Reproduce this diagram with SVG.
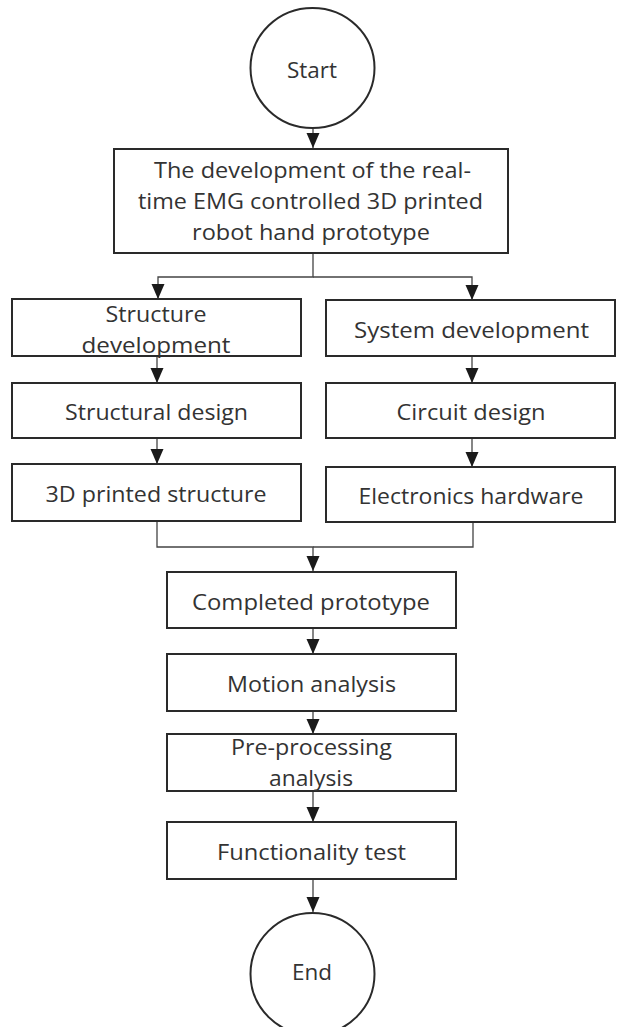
<svg xmlns="http://www.w3.org/2000/svg" width="617" height="1027" viewBox="0 0 617 1027">
<style>
.n{fill:#fff;stroke:#2a2a2a;stroke-width:2}
.t{font-family:"Open Sans","Liberation Sans",sans-serif;font-size:21px;fill:#333;text-anchor:middle}
.c{fill:none;stroke:#444;stroke-width:1.3}
</style>
<defs>
<marker id="ah" markerUnits="userSpaceOnUse" markerWidth="16" markerHeight="14" refX="15" refY="6.5" orient="auto">
<path d="M0,0 L15,6.5 L0,13 Z" fill="#1a1a1a"/>
</marker>
</defs>
<rect width="617" height="1027" fill="#fff"/>
<g id="connectors">
<path class="c" d="M313,129 V148" marker-end="url(#ah)"/>
<path class="c" d="M313,253 V277 H158 V299" marker-end="url(#ah)"/>
<path class="c" d="M313,277 H472 V300" marker-end="url(#ah)"/>
<path class="c" d="M157,356 V383" marker-end="url(#ah)"/>
<path class="c" d="M157,438 V464" marker-end="url(#ah)"/>
<path class="c" d="M472,356 V383" marker-end="url(#ah)"/>
<path class="c" d="M472,438 V467" marker-end="url(#ah)"/>
<path class="c" d="M157,521 V547 H313 V571" marker-end="url(#ah)"/>
<path class="c" d="M473,522 V547 H313"/>
<path class="c" d="M313,628 V654" marker-end="url(#ah)"/>
<path class="c" d="M313,711 V734" marker-end="url(#ah)"/>
<path class="c" d="M313,791 V822" marker-end="url(#ah)"/>
<path class="c" d="M313,879 V912" marker-end="url(#ah)"/>
</g>
<g id="start">
<ellipse class="n" cx="312.5" cy="68" rx="62" ry="60"/>
<text class="t" x="312" y="78" textLength="50" lengthAdjust="spacingAndGlyphs">Start</text>
</g>
<g id="main">
<rect class="n" x="114" y="149" width="394" height="104"/>
<text class="t" x="312.5" y="178" textLength="317" lengthAdjust="spacingAndGlyphs">The development of the real-</text>
<text class="t" x="310.5" y="209" textLength="345" lengthAdjust="spacingAndGlyphs">time EMG controlled 3D printed</text>
<text class="t" x="311" y="240" textLength="238" lengthAdjust="spacingAndGlyphs">robot hand prototype</text>
</g>
<g id="structure-development">
<rect class="n" x="12" y="299" width="289" height="57"/>
<text class="t" x="156" y="322" textLength="101" lengthAdjust="spacingAndGlyphs">Structure</text>
<text class="t" x="156" y="353" textLength="149" lengthAdjust="spacingAndGlyphs">development</text>
</g>
<g id="structural-design">
<rect class="n" x="12" y="383" width="289" height="55"/>
<text class="t" x="156.5" y="420" textLength="183" lengthAdjust="spacingAndGlyphs">Structural design</text>
</g>
<g id="printed-structure">
<rect class="n" x="12" y="464" width="289" height="57"/>
<text class="t" x="156" y="502" textLength="221" lengthAdjust="spacingAndGlyphs">3D printed structure</text>
</g>
<g id="system-development">
<rect class="n" x="326" y="300" width="289" height="56"/>
<text class="t" x="471.5" y="338" textLength="235" lengthAdjust="spacingAndGlyphs">System development</text>
</g>
<g id="circuit-design">
<rect class="n" x="326" y="383" width="289" height="55"/>
<text class="t" x="471" y="420" textLength="149" lengthAdjust="spacingAndGlyphs">Circuit design</text>
</g>
<g id="electronics-hardware">
<rect class="n" x="326" y="467" width="289" height="55"/>
<text class="t" x="471" y="504" textLength="225" lengthAdjust="spacingAndGlyphs">Electronics hardware</text>
</g>
<g id="completed-prototype">
<rect class="n" x="167" y="572" width="289" height="56"/>
<text class="t" x="311" y="610" textLength="238" lengthAdjust="spacingAndGlyphs">Completed prototype</text>
</g>
<g id="motion-analysis">
<rect class="n" x="167" y="654" width="289" height="57"/>
<text class="t" x="311.5" y="692" textLength="169" lengthAdjust="spacingAndGlyphs">Motion analysis</text>
</g>
<g id="preprocessing-analysis">
<rect class="n" x="167" y="734" width="289" height="57"/>
<text class="t" x="311.5" y="755" textLength="161" lengthAdjust="spacingAndGlyphs">Pre-processing</text>
<text class="t" x="311" y="786" textLength="84" lengthAdjust="spacingAndGlyphs">analysis</text>
</g>
<g id="functionality-test">
<rect class="n" x="167" y="822" width="289" height="57"/>
<text class="t" x="311.5" y="860" textLength="189" lengthAdjust="spacingAndGlyphs">Functionality test</text>
</g>
<g id="end">
<ellipse class="n" cx="312.5" cy="974" rx="62" ry="61"/>
<text class="t" x="312" y="980" textLength="40" lengthAdjust="spacingAndGlyphs">End</text>
</g>
</svg>
